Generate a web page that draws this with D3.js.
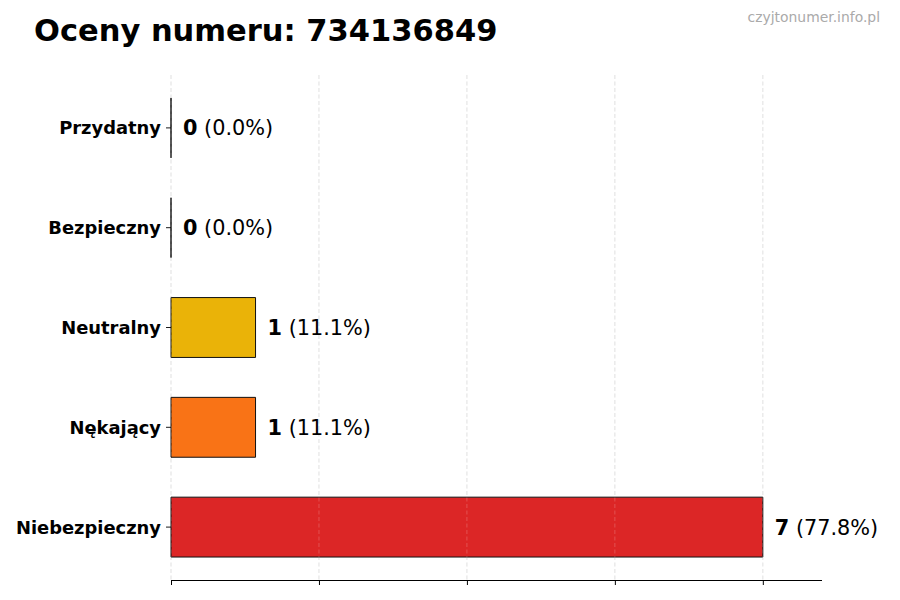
<!DOCTYPE html>
<html>
<head>
<meta charset="utf-8">
<script src="https://cdn.jsdelivr.net/npm/d3@7"></script>
<style>
  body { margin: 0; background: #fff; }
  svg { display: block; font-family: "DejaVu Sans", sans-serif; }
</style>
</head>
<body>
<svg id="chart" width="900" height="600"></svg>
<script>
const titleText = "Oceny numeru: 734136849";
const watermark = "czyjtonumer.info.pl";
const categories = ["Niebezpieczny", "Nękający", "Neutralny", "Bezpieczny", "Przydatny"];
const values = [7, 1, 1, 0, 0];
const percents = ["77.8%", "11.1%", "11.1%", "0.0%", "0.0%"];
const colors = ["#DC2626", "#F97316", "#EAB308", "#22C55E", "#16A34A"];
const xTicks = [0, 1.75, 3.5, 5.25, 7];

(function () {
const svg = d3.select("#chart");
const mLeft = 171, mRight = 822, mTop = 75, mBottom = 580;

const x = d3.scaleLinear().domain([0, 7.7]).range([mLeft, mRight]);
const y = d3.scaleLinear().domain([-0.53, 4.53]).range([mBottom, mTop]);
const barH = 0.6;

// grid
svg.append("g").selectAll("line").data(xTicks).join("line")
  .attr("x1", d => x(d)).attr("x2", d => x(d))
  .attr("y1", mTop).attr("y2", mBottom)
  .attr("stroke", "#d4d4d4").attr("stroke-width", 0.8)
  .attr("stroke-dasharray", "4,2.5");

// bars
const data = categories.map((c, i) => ({c, v: values[i], p: percents[i], col: colors[i], i}));
svg.append("g").selectAll("path").data(data).join("path")
  .attr("d", d => {
    const x0 = x(0), x1 = x(d.v), y0 = y(d.i + barH / 2), y1 = y(d.i - barH / 2);
    return `M${x0},${y0}H${x1}V${y1}H${x0}Z`;
  })
  .attr("fill", d => d.col)
  .attr("stroke", "#111").attr("stroke-width", 1);

// grid over bars (light)
svg.append("g").selectAll("line").data(xTicks).join("line")
  .attr("x1", d => x(d)).attr("x2", d => x(d))
  .attr("y1", mTop).attr("y2", mBottom)
  .attr("stroke", "#ffffff").attr("stroke-opacity", 0.25).attr("stroke-width", 0.8)
  .attr("stroke-dasharray", "4,2.5");

// x axis
const xAxis = d3.axisBottom(x).tickValues(xTicks).tickSize(5).tickFormat("");
const gx = svg.append("g").attr("transform", `translate(0,${mBottom})`).call(xAxis);
gx.select(".domain").attr("d", `M${mLeft},0.5H${mRight}`).attr("stroke", "#000").attr("stroke-width", 1.1);
gx.selectAll(".tick line").attr("stroke", "#000");

// y ticks + labels
const gy = svg.append("g");
gy.selectAll("line").data(data).join("line")
  .attr("x1", mLeft - 5).attr("x2", mLeft)
  .attr("y1", d => y(d.i)).attr("y2", d => y(d.i))
  .attr("stroke", "#000").attr("stroke-width", 0.9);
gy.selectAll("text").data(data).join("text")
  .attr("x", mLeft - 10).attr("y", d => y(d.i))
  .attr("dy", "0.36em")
  .attr("text-anchor", "end")
  .attr("font-weight", "bold").attr("font-size", 17.9)
  .text(d => d.c);

// value labels
const vl = svg.append("g").selectAll("text").data(data).join("text")
  .attr("x", d => x(d.v) + 12).attr("y", d => y(d.i))
  .attr("dy", "0.36em")
  .attr("font-size", 20.8);
vl.append("tspan").attr("font-weight", "bold").text(d => d.v);
vl.append("tspan").text(d => " (" + d.p + ")");

// title
svg.append("text").attr("x", 34).attr("y", 41)
  .attr("font-weight", "bold").attr("font-size", 30.5)
  .text(titleText);

svg.append("text").attr("x", 880).attr("y", 22)
  .attr("text-anchor", "end").attr("font-size", 13.9)
  .attr("fill", "#aaaaaa")
  .text(watermark);
})();
</script>
</body>
</html>
